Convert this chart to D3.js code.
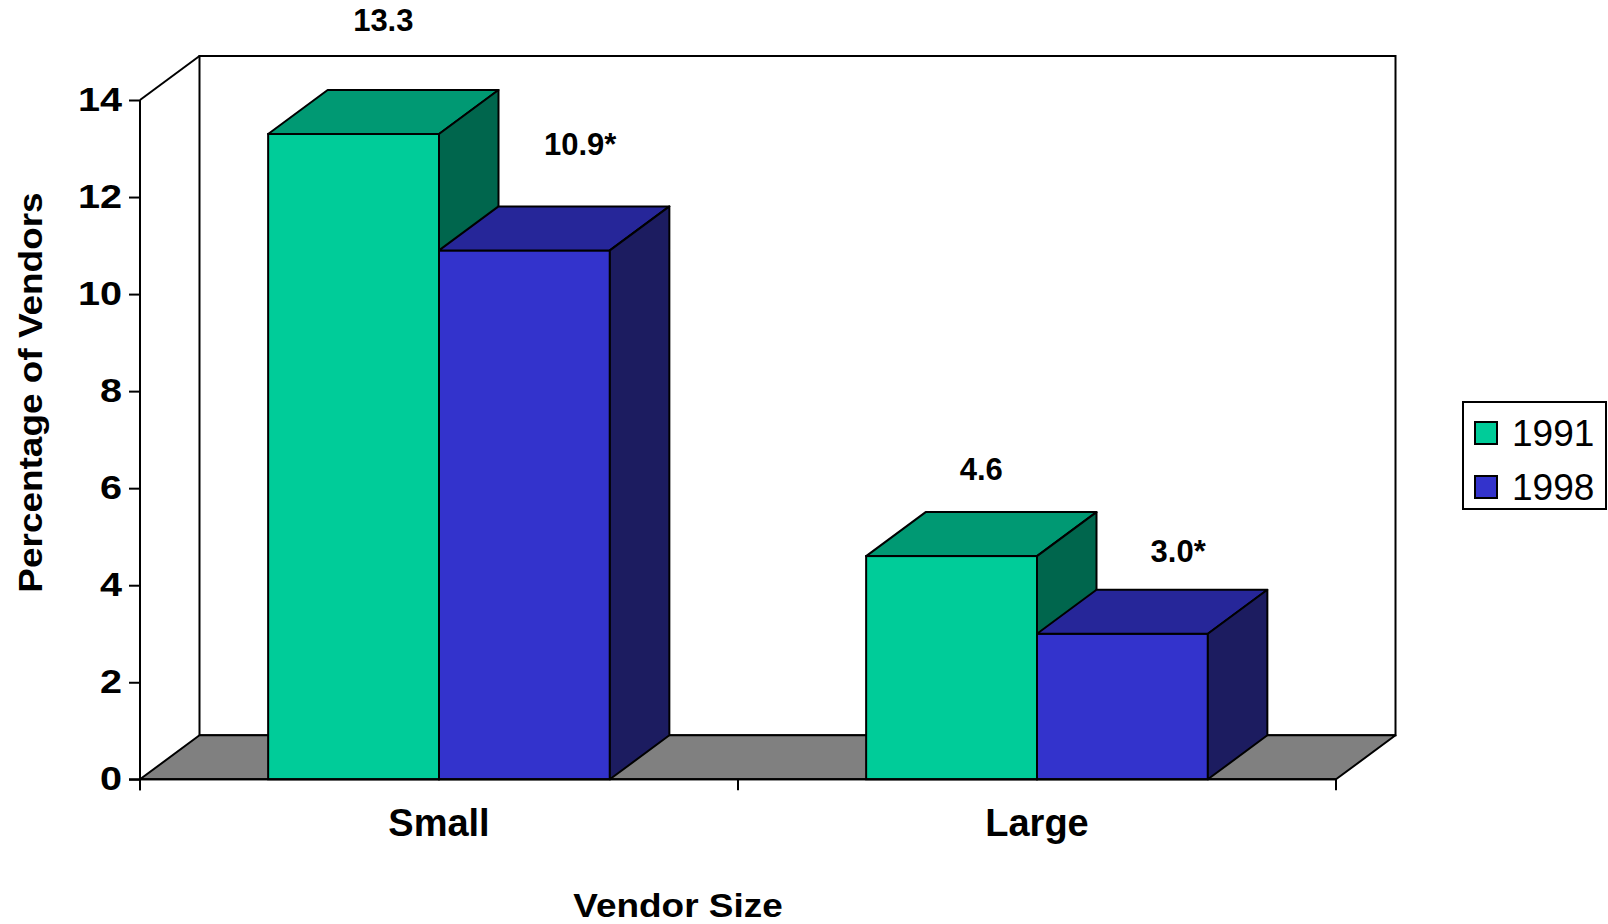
<!DOCTYPE html>
<html>
<head>
<meta charset="utf-8">
<script src="https://cdn.jsdelivr.net/npm/d3@7"></script>
<style>
  body { margin: 0; background: #fff; }
  text { font-family: "Liberation Sans", Arial, sans-serif; fill: #000; }
</style>
</head>
<body>
<div id="chart"></div>
<script>
// data
const categories = ["Small", "Large"];
const years = ["1991", "1998"];
const values1991 = [13.3, 4.6];
const values1998 = [10.9, 3.0];
const labels1991 = ["13.3", "4.6"];
const labels1998 = ["10.9*", "3.0*"];
const yTicks = [0, 2, 4, 6, 8, 10, 12, 14];

const colors = {
    "1991": { front: "#00cc99", top: "#009973", side: "#00664d" },
    "1998": { front: "#3333cc", top: "#262699", side: "#1c1c60" }
};

const width = 1608, height = 924;
// front plane of the plot and depth offset of the 3d box
const plot = { left: 140, right: 1336, top: 100, bottom: 779.3 };
const depth = { dx: 59.5, dy: 44 };

const rows = [];
categories.forEach(function (c, i) {
    rows.push({ cat: c, year: "1991", value: values1991[i], label: labels1991[i] });
    rows.push({ cat: c, year: "1998", value: values1998[i], label: labels1998[i] });
});

const svg = d3.select("#chart")
    .append("svg")
    .attr("width", width)
    .attr("height", height);

const y = d3.scaleLinear()
    .domain([0, 14])
    .range([plot.bottom, plot.top]);

const x = d3.scaleBand()
    .domain(categories)
    .range([plot.left, plot.right])
    .padding(0);

const xYear = d3.scaleBand()
    .domain(years)
    .range([0, x.bandwidth()])
    .paddingInner(0)
    .paddingOuter(0.75);

const y0 = y(0);

// back wall
svg.append("rect")
    .attr("x", plot.left + depth.dx)
    .attr("y", plot.top - depth.dy)
    .attr("width", plot.right - plot.left)
    .attr("height", y0 - plot.top)
    .attr("fill", "#fff")
    .attr("stroke", "#000")
    .attr("stroke-width", 2);

// side wall top edge
svg.append("line")
    .attr("x1", plot.left).attr("y1", plot.top)
    .attr("x2", plot.left + depth.dx).attr("y2", plot.top - depth.dy)
    .attr("stroke", "#000").attr("stroke-width", 2);

// floor
const floorPts = [
    [plot.left, y0], [plot.right, y0],
    [plot.right + depth.dx, y0 - depth.dy], [plot.left + depth.dx, y0 - depth.dy]
];
svg.append("polygon")
    .attr("points", floorPts.map(p => p.join(",")).join(" "))
    .attr("fill", "#808080")
    .attr("stroke", "#000")
    .attr("stroke-width", 2)
    .attr("stroke-linejoin", "round");

// bars
const bars = svg.append("g").selectAll("g.bar")
    .data(rows)
    .enter()
    .append("g")
    .attr("class", "bar");

const bx = d => x(d.cat) + xYear(d.year);
const bw = xYear.bandwidth();

bars.append("rect")
    .attr("x", bx)
    .attr("y", d => y(d.value))
    .attr("width", bw)
    .attr("height", d => y0 - y(d.value))
    .attr("fill", d => colors[d.year].front)
    .attr("stroke", "#000")
    .attr("stroke-width", 2);

bars.append("polygon")
    .attr("points", function (d) {
        const x0 = bx(d), yv = y(d.value);
        return [[x0, yv], [x0 + bw, yv], [x0 + bw + depth.dx, yv - depth.dy], [x0 + depth.dx, yv - depth.dy]]
            .map(p => p.join(",")).join(" ");
    })
    .attr("fill", d => colors[d.year].top)
    .attr("stroke", "#000")
    .attr("stroke-width", 2)
    .attr("stroke-linejoin", "round");

bars.append("polygon")
    .attr("points", function (d) {
        const x1 = bx(d) + bw, yv = y(d.value);
        return [[x1, yv], [x1 + depth.dx, yv - depth.dy], [x1 + depth.dx, y0 - depth.dy], [x1, y0]]
            .map(p => p.join(",")).join(" ");
    })
    .attr("fill", d => colors[d.year].side)
    .attr("stroke", "#000")
    .attr("stroke-width", 2)
    .attr("stroke-linejoin", "round");

// value labels, floated above the top face (higher bars get a bit more room, as in the original)
// the starred 1998 labels sit a little to the right
svg.append("g").selectAll("text")
    .data(rows)
    .enter()
    .append("text")
    .attr("x", d => bx(d) + bw / 2 + depth.dx / 2 + (d.year === "1998" ? 26 : 0))
    .attr("y", d => y(d.value * 1.063 + 0.6) - depth.dy + 11)
    .attr("text-anchor", "middle")
    .style("font-size", "31px")
    .style("font-weight", "bold")
    .text(d => d.label);

// y axis
const yAxis = svg.append("g")
    .attr("transform", "translate(" + plot.left + ",0)")
    .call(d3.axisLeft(y).tickValues(yTicks).tickSize(11).tickPadding(7).tickFormat(d3.format("d")));
yAxis.select(".domain").remove();
yAxis.selectAll(".tick line").attr("stroke", "#000").attr("stroke-width", 2);
yAxis.selectAll(".tick text")
    .attr("x", -18 / 1.2)
    .attr("transform", "scale(1.2,1)")
    .style("font-size", "33px")
    .style("font-weight", "bold");
svg.append("line")
    .attr("x1", plot.left).attr("x2", plot.left)
    .attr("y1", plot.top).attr("y2", y0 + 11)
    .attr("stroke", "#000").attr("stroke-width", 2);

// x axis
svg.append("line")
    .attr("x1", plot.left - 11).attr("x2", plot.right)
    .attr("y1", y0).attr("y2", y0)
    .attr("stroke", "#000").attr("stroke-width", 2);
const bounds = categories.map(c => x(c)).concat([x(categories[categories.length - 1]) + x.bandwidth()]);
svg.append("g").selectAll("line")
    .data(bounds)
    .enter()
    .append("line")
    .attr("x1", d => d).attr("x2", d => d)
    .attr("y1", y0).attr("y2", y0 + 11)
    .attr("stroke", "#000").attr("stroke-width", 2);

svg.append("g").selectAll("text")
    .data(categories)
    .enter()
    .append("text")
    .attr("x", d => x(d) + x.bandwidth() / 2)
    .attr("y", 836)
    .attr("text-anchor", "middle")
    .style("font-size", "38px")
    .style("font-weight", "bold")
    .text(d => d);

// axis titles
svg.append("text")
    .attr("transform", "translate(678,917) scale(1.12,1)")
    .attr("text-anchor", "middle")
    .style("font-size", "33px")
    .style("font-weight", "bold")
    .text("Vendor Size");

svg.append("text")
    .attr("transform", "translate(42,392.5) rotate(-90) scale(1.12,1)")
    .attr("text-anchor", "middle")
    .style("font-size", "33px")
    .style("font-weight", "bold")
    .text("Percentage of Vendors");

// legend
const legend = svg.append("g").attr("transform", "translate(1463,402)");
legend.append("rect")
    .attr("width", 143).attr("height", 107)
    .attr("fill", "#fff").attr("stroke", "#000").attr("stroke-width", 2);
const items = legend.selectAll("g.item")
    .data(years)
    .enter()
    .append("g")
    .attr("class", "item")
    .attr("transform", (d, i) => "translate(12," + (20 + i * 54) + ")");
items.append("rect")
    .attr("width", 22).attr("height", 22)
    .attr("fill", d => colors[d].front)
    .attr("stroke", "#000").attr("stroke-width", 2);
items.append("text")
    .attr("x", 37).attr("y", 23.5)
    .style("font-size", "37px")
    .text(d => d);
</script>
</body>
</html>
